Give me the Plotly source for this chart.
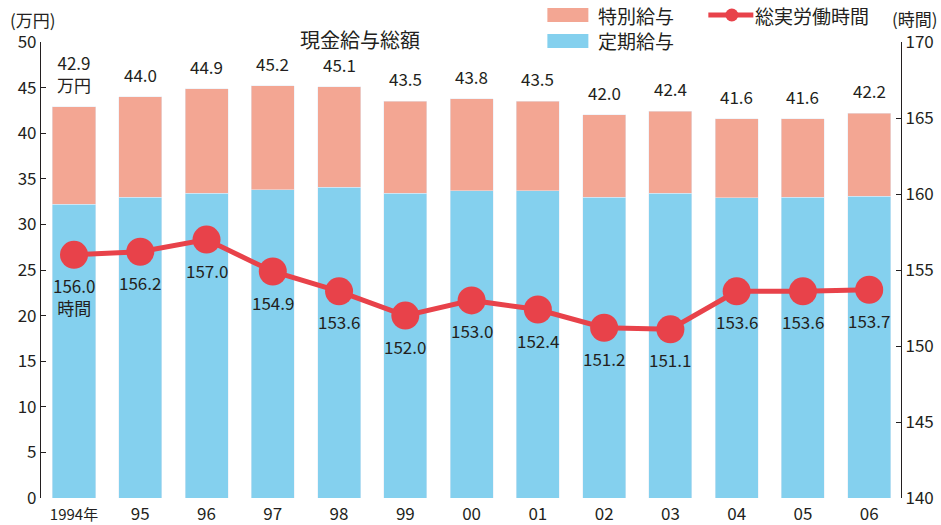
import plotly.graph_objects as go

years = ["<span style='font-size:15px'>1994年</span>", "95", "96", "97", "98", "99", "00",
         "01", "02", "03", "04", "05", "06"]
total_pay = [42.9, 44.0, 44.9, 45.2, 45.1, 43.5, 43.8, 43.5, 42.0, 42.4, 41.6, 41.6, 42.2]
regular_pay = [32.2, 33.0, 33.4, 33.8, 34.1, 33.4, 33.7, 33.7, 33.0, 33.4, 32.9, 33.0, 33.1]
special_pay = [round(t - r, 1) for t, r in zip(total_pay, regular_pay)]
hours = [156.0, 156.2, 157.0, 154.9, 153.6, 152.0, 153.0, 152.4, 151.2, 151.1, 153.6, 153.6, 153.7]

BLUE = "#84d0ee"
SALMON = "#f3a693"
RED = "#e8424a"
INK = "#231f20"
FONT = "Noto Sans CJK JP"

x = list(range(len(years)))

fig = go.Figure()
fig.add_bar(x=x, y=regular_pay, marker_color=BLUE, width=0.65, name="定期給与", showlegend=False)
fig.add_bar(x=x, y=special_pay, marker_color=SALMON, width=0.65, name="特別給与", showlegend=False)
fig.add_scatter(x=x, y=hours, yaxis="y2", mode="lines+markers",
                line=dict(color=RED, width=5), marker=dict(color=RED, size=28),
                name="総実労働時間", showlegend=False)

fig.update_layout(
    width=941, height=525,
    margin=dict(l=40.5, r=40.3, t=42, b=27, autoexpand=False),
    barmode="stack",
    plot_bgcolor="white", paper_bgcolor="white",
    font=dict(family=FONT, size=17, color=INK),
    xaxis=dict(tickmode="array", tickvals=x, ticktext=years, range=[-0.498, 12.48],
               showline=False, showgrid=False, ticks="", tickfont=dict(size=17),
               ticklabelstandoff=4, automargin=False),
    yaxis=dict(range=[0, 50], dtick=5, showgrid=False, showline=True, linecolor=INK, linewidth=1.2,
               ticks="inside", ticklen=5, tickcolor=INK, zeroline=False, tickfont=dict(size=17),
               automargin=False),
    yaxis2=dict(range=[140, 170], dtick=5, overlaying="y", side="right", showgrid=False,
                showline=True, linecolor=INK, linewidth=1.2, ticks="inside", ticklen=5,
                tickcolor=INK, zeroline=False, tickfont=dict(size=17), automargin=False),
)

# value labels
for i, v in enumerate(total_pay):
    txt = f"{v:.1f}" + ("<br>万円" if i == 0 else "")
    fig.add_annotation(x=i, y=v, text=txt, showarrow=False, yanchor="bottom", yshift=8,
                       font=dict(size=17))
for i, v in enumerate(hours):
    txt = f"{v:.1f}" + ("<br>時間" if i == 0 else "")
    fig.add_annotation(x=i, y=v, yref="y2", text=txt, showarrow=False, yanchor="top", yshift=-16,
                       font=dict(size=17))


# window pixel -> plot-domain coordinates (plot area spans x 40.5..900.7, y 42..498)
def px_x(v):
    return (v - 40.5) / 860.2


def px_y(v):
    return (498 - v) / 456


def label(text, wx, wy, size, anchor="left"):
    fig.add_annotation(text=text, xref="paper", yref="paper", x=px_x(wx), y=px_y(wy),
                       xanchor=anchor, yanchor="middle", showarrow=False, font=dict(size=size))


label("現金給与総額", 360, 39, 20, "center")
label("(万円)", 7, 20, 17)
label("(時間)", 940, 18, 17, "right")

# legend drawn by hand
for y0, color, text in [(15, SALMON, "特別給与"), (41, BLUE, "定期給与")]:
    fig.add_shape(type="rect", xref="paper", yref="paper", x0=px_x(547), x1=px_x(588),
                  y0=px_y(y0 + 7), y1=px_y(y0 - 7), fillcolor=color, line_width=0)
    label(text, 596, y0, 19)
fig.add_shape(type="line", xref="paper", yref="paper", x0=px_x(708), x1=px_x(753),
              y0=px_y(15), y1=px_y(15), line=dict(color=RED, width=5))
fig.add_shape(type="circle", xref="paper", yref="paper", x0=px_x(725), x1=px_x(738),
              y0=px_y(21.5), y1=px_y(8.5), fillcolor=RED, line_width=0)
label("総実労働時間", 753, 15, 19)

# drop the default 8px body margin so the figure fills the window exactly
fig.write_html("out.html", config={"displayModeBar": False},
               post_script="document.body.style.margin='0';")
